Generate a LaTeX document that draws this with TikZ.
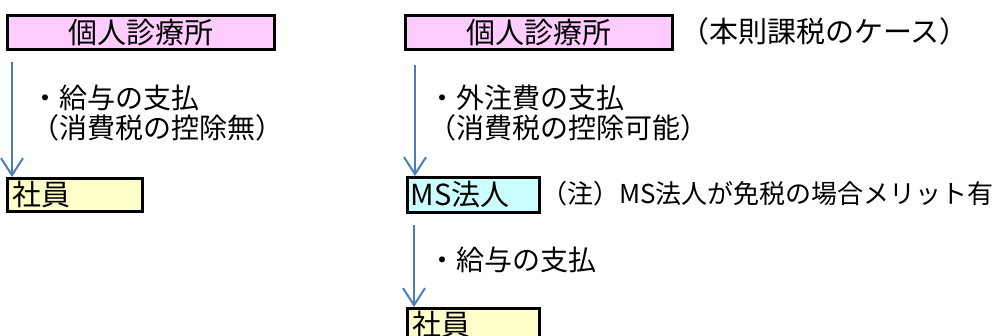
\documentclass[tikz,border=0pt]{standalone}
\usepackage{fontspec}
\setmainfont{Noto Sans CJK JP}
\usetikzlibrary{arrows.meta}
\definecolor{boxpink}{HTML}{FFCCFF}
\definecolor{boxyellow}{HTML}{FFFFCC}
\definecolor{boxcyan}{HTML}{CCFFFF}
\definecolor{arrblue}{HTML}{4A7EBB}
\begin{document}
\begin{tikzpicture}[x=1pt,y=-1pt,
  box/.style={draw=black, line width=3pt, inner sep=0pt, anchor=north west,
    font=\fontsize{29}{30}\selectfont},
  lbox/.style={box, align=left, inner xsep=5pt},
  lbl/.style={anchor=west, align=left, inner sep=0pt,
    font=\fontsize{28}{30}\selectfont},
  arr/.style={draw=arrblue, line width=2pt,
    -{Straight Barb[length=17pt,width=22pt,line width=2pt]}}]
\useasboundingbox (0,0) rectangle (1004,335);
% left side
\node[box, fill=boxpink, minimum width=267pt, minimum height=34pt] (A1) at (6,14) {個人診療所};
\node[lbox, fill=boxyellow, minimum width=135pt, minimum height=33pt, text width=125pt] (S1) at (6,177) {社員};
\coordinate (a1s) at (12,62);
\draw[arr] (a1s) -- (a1s |- S1.north);
\node[lbl] (L1) at (31,113) {・給与の支払\\（消費税の控除無）};
% right side
\node[box, fill=boxpink, minimum width=267pt, minimum height=34pt] (A2) at (404,14) {個人診療所};
\node[lbl, font=\fontsize{29}{30}\selectfont] (N1) at (680,31) {（本則課税のケース）};
\node[box, fill=boxcyan, minimum width=132pt, minimum height=35pt, align=left, text width=126pt, inner xsep=3pt] (M) at (406,176) {MS法人};
\node[lbl, font=\fontsize{26}{30}\selectfont] (N2) at (541,194) {（注）MS法人が免税の場合メリット有};
\coordinate (a2s) at (415,65);
\draw[arr] (a2s) -- (a2s |- M.north);
\node[lbl] (L2) at (428,113) {・外注費の支払\\（消費税の控除可能）};
\node[lbox, fill=boxyellow, minimum width=132pt, minimum height=40pt, text width=122pt, text depth=10pt] (S2) at (406,307) {社員};
\coordinate (a3s) at (414,225);
\draw[arr] (a3s) -- (a3s |- S2.north);
\node[lbl] (L3) at (428,260) {・給与の支払};
\end{tikzpicture}
\end{document}
